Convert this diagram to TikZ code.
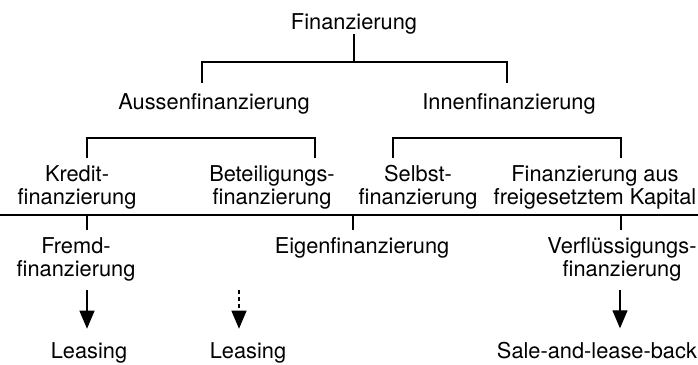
\documentclass[tikz,border=0pt]{standalone}
\usepackage{fontspec}
\setmainfont{TeX Gyre Heros}
\usetikzlibrary{arrows.meta,positioning}

\begin{document}
\begin{tikzpicture}[x=0.5pt,y=-0.5pt,inner sep=0pt,
  every node/.style={font=\fontsize{10.9pt}{11.5pt}\selectfont,align=center,anchor=base},
  link/.style={line width=0.6pt},
  downarrow/.style={line width=0.6pt,-{Triangle[width=7.5pt,length=9pt]},shorten >=6.5pt}]
\useasboundingbox (0,0) rectangle (698,365);

\node (fin) at (354,29) {Finanzierung};
\node (aussen) at (214,109) {Aussenfinanzierung};
\node (innen) at (509,109) {Innenfinanzierung};

% two-line nodes sit on the baseline of their last line
\node (kredit) at (77,204) {Kredit-\\finanzierung};
\node (beteil) at (272,204) {Beteiligungs-\\finanzierung};
\node (selbst) at (418,204) {Selbst-\\finanzierung};
\node (freikap) at (595,204) {Finanzierung aus\\freigesetztem Kapital};

\node (fremd) at (76,276) {Fremd-\\finanzierung};
\node (eigen) at (362,253) {Eigenfinanzierung};
\node (verfl) at (622,276) {Verfl\"ussigungs-\\finanzierung};

\node (leas1) at (89,358) {Leasing};
\node (leas2) at (248,358) {Leasing};
\node (slb) at (597,358) {Sale-and-lease-back};

% first level
\coordinate (top) at (354,62);
\coordinate (aus) at (202,83);
\coordinate (inn) at (507,83);
\draw[link] (fin.south) -- (top);
\draw[link] (aus) |- (top) -| (inn);

% second level
\coordinate (kr) at (87,158);
\coordinate (be) at (315,158);
\coordinate (se) at (393,158);
\coordinate (fk) at (621,158);
\draw[link] (kr) -- ++(0,-20) -| (be);
\draw[link] (se) -- ++(0,-20) -| (fk);

% dividing line
\coordinate (lineL) at (0,215);
\coordinate (lineR) at (698,215);
\draw[line width=1.2pt] (lineL) -- (lineR);
\foreach \x/\n in {87/tA,353/tB,621/tC}{
  \coordinate (\n) at (\x,215);
  \draw[link] (\n) -- ++(0,15);
}

% arrows
\coordinate (fa) at (87,290);
\coordinate (la) at (239,290);
\coordinate (va) at (620,290);
\draw[downarrow] (fa) -- (fa |- leas1.north);
\draw[downarrow,dash pattern=on 2pt off 1.5pt] (la) -- (la |- leas2.north);
\draw[downarrow] (va) -- (va |- slb.north);

\end{tikzpicture}
\end{document}
